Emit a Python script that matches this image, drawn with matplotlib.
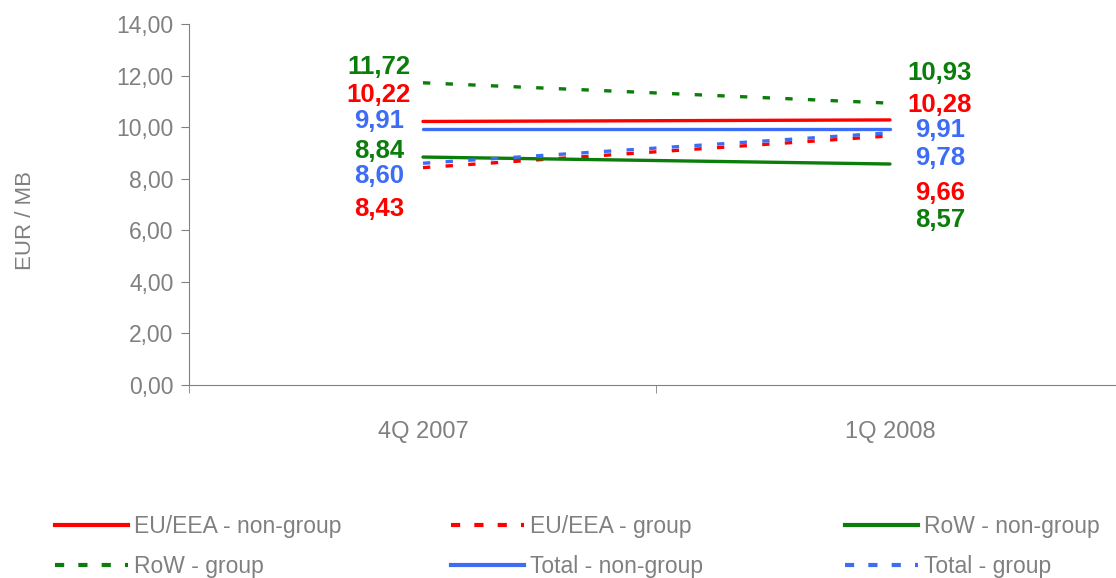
import numpy as np
import matplotlib.pyplot as plt
from matplotlib.lines import Line2D

plt.rcParams['font.family'] = ['Liberation Sans', 'DejaVu Sans']

quarters = ['4Q 2007', '1Q 2008']
series_names = ['EU/EEA - non-group', 'EU/EEA - group', 'RoW - non-group',
                'RoW - group', 'Total - non-group', 'Total - group']
eu_nongroup = [10.22, 10.28]
eu_group = [8.43, 9.66]
row_nongroup = [8.84, 8.57]
row_group = [11.72, 10.93]
total_nongroup = [9.91, 9.91]
total_group = [8.60, 9.78]
y_ticks = [0, 2, 4, 6, 8, 10, 12, 14]

red = '#ff0000'
green = '#0a7d0a'
blue = '#3d6cf5'
grey = '#808080'

series = [eu_nongroup, eu_group, row_nongroup, row_group, total_nongroup, total_group]
colors = [red, red, green, green, blue, blue]
dashed = [False, True, False, True, False, True]
# label offsets in pixels (left point, right point) so the labels don't overlap
label_dy = [(26, 15), (-41, -57), (6, -56), (16, 30), (8, -1), (-13, -25)]

fig = plt.figure(figsize=(11.16, 5.78), dpi=100)
ax = fig.add_axes([189 / 1116, 1 - 385 / 578, 1 - 189 / 1116, (385 - 24) / 578])

x = np.arange(len(quarters))
for vals, c, d, (dl, dr) in zip(series, colors, dashed, label_dy):
    if d:
        ax.plot(x, vals, color=c, lw=2.4, dashes=(2.2, 4.6), solid_capstyle='butt')
    else:
        ax.plot(x, vals, color=c, lw=2.4, solid_capstyle='round')
    ax.annotate(f'{vals[0]:.2f}'.replace('.', ','), (x[0], vals[0]), xytext=(-44, dl),
                textcoords='offset pixels', ha='center', va='center',
                color=c, fontsize=18.5, fontweight='bold')
    ax.annotate(f'{vals[1]:.2f}'.replace('.', ','), (x[1], vals[1]), xytext=(50, dr),
                textcoords='offset pixels', ha='center', va='center',
                color=c, fontsize=18.5, fontweight='bold')

ax.set_xlim(-0.501, 1.484)
ax.set_ylim(0, 14)
ax.set_yticks(y_ticks)
ax.set_yticklabels([f'{v:.2f}'.replace('.', ',') for v in y_ticks])
ax.set_xticks(x)
ax.set_xticklabels(quarters)
ax.set_xticks([-0.5, 0.5], minor=True)
ax.tick_params(axis='x', which='major', length=0, pad=26, labelsize=17, labelcolor=grey)
ax.tick_params(axis='x', which='minor', length=6, color=grey, direction='out')
ax.tick_params(axis='y', length=6, color=grey, labelsize=16.5, labelcolor=grey, pad=5)
for s in ['top', 'right']:
    ax.spines[s].set_visible(False)
for s in ['left', 'bottom']:
    ax.spines[s].set_color(grey)
ax.set_ylabel('EUR / MB', fontsize=16, color=grey)
ax.yaxis.set_label_coords(-0.165, 0.457)

# legend laid out as a 3x2 grid, row by row
col_x = [55, 451, 845]
row_y = [527, 567]
for i, name in enumerate(series_names):
    if dashed[i]:
        h = Line2D([], [], color=colors[i], lw=3.0, dashes=(2.2, 3.4))
    else:
        h = Line2D([], [], color=colors[i], lw=3.0)
    fig.legend([h], [name], loc='center left',
               bbox_to_anchor=(col_x[i % 3] / 1116, 1 - row_y[i // 3] / 578),
               frameon=False, borderpad=0, borderaxespad=0, handlelength=3.2,
               handletextpad=0.25, fontsize=16.5, labelcolor=grey)

fig.savefig('out.png', dpi=100)
